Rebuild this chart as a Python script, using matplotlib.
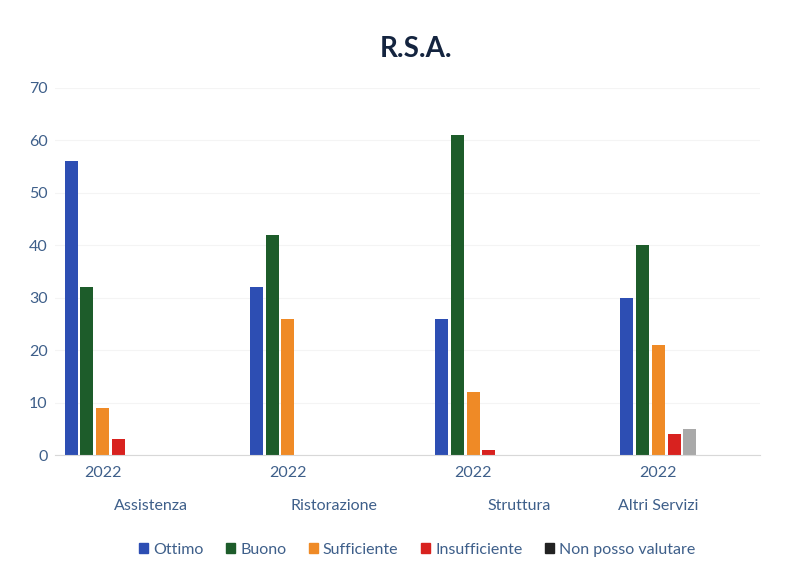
import numpy as np
import matplotlib.pyplot as plt
from matplotlib.patches import Patch

plt.rcParams['font.family'] = ['Lato', 'DejaVu Sans']

# dati
categorie = ["Assistenza", "Ristorazione", "Struttura", "Altri Servizi"]
anno = ["2022", "2022", "2022", "2022"]
ottimo = [56, 32, 26, 30]
buono = [32, 42, 61, 40]
sufficiente = [9, 26, 12, 21]
insufficiente = [3, 0, 1, 4]
non_posso = [0, 0, 0, 5]

serie = [("Ottimo", ottimo, "#2d4eb3"),
         ("Buono", buono, "#1d5c2a"),
         ("Sufficiente", sufficiente, "#ef8a26"),
         ("Insufficiente", insufficiente, "#d8221f"),
         ("Non posso valutare", non_posso, "#a9a9a9")]

fig = plt.figure(figsize=(8.05, 5.71), dpi=100)
ax = fig.add_axes([0.068, 0.203, 0.876, 0.643])

x = np.arange(len(categorie))
passo = 0.086
larg = 0.07
for k, (nome, val, col) in enumerate(serie):
    ax.bar(x + (k - 2) * passo, val, width=larg, color=col, label=nome)

ax.set_xlim(-0.26, 3.55)
ax.set_ylim(0, 70)
ax.set_yticks(range(0, 71, 10))
ax.yaxis.grid(True, color="#f4f4f4", lw=0.8)
ax.set_axisbelow(True)
for s in ["top", "right", "left"]:
    ax.spines[s].set_visible(False)
ax.spines["bottom"].set_color("#d8d8d8")
ax.tick_params(axis="y", length=0, colors="#3e5f8a", labelsize=11.5, pad=5)
ax.set_xticks(x)
ax.set_xticklabels(anno)
ax.tick_params(axis="x", length=0, colors="#3e5f8a", labelsize=11.5, pad=8)

# etichette di categoria (posizioni come nell'originale)
off = [0.26, 0.25, 0.25, 0.0]
for i, c in enumerate(categorie):
    ax.text(x[i] + off[i], -9.8, c, ha="center", va="center",
            fontsize=11.5, color="#3e5f8a")

fig.text(0.517, 0.915, "R.S.A.", ha="center", va="center",
         fontsize=20, fontweight="bold", color="#14243f")

handles = [Patch(color=c) for _, _, c in serie[:4]] + [Patch(color="#222222")]
fig.legend(handles, [s[0] for s in serie], loc="center", ncol=5,
           bbox_to_anchor=(0.518, 0.037), frameon=False, fontsize=11.5,
           handlelength=0.6, handleheight=0.6, handletextpad=0.3,
           columnspacing=1.4, labelcolor="#3e5f8a")

plt.savefig("out.png")
